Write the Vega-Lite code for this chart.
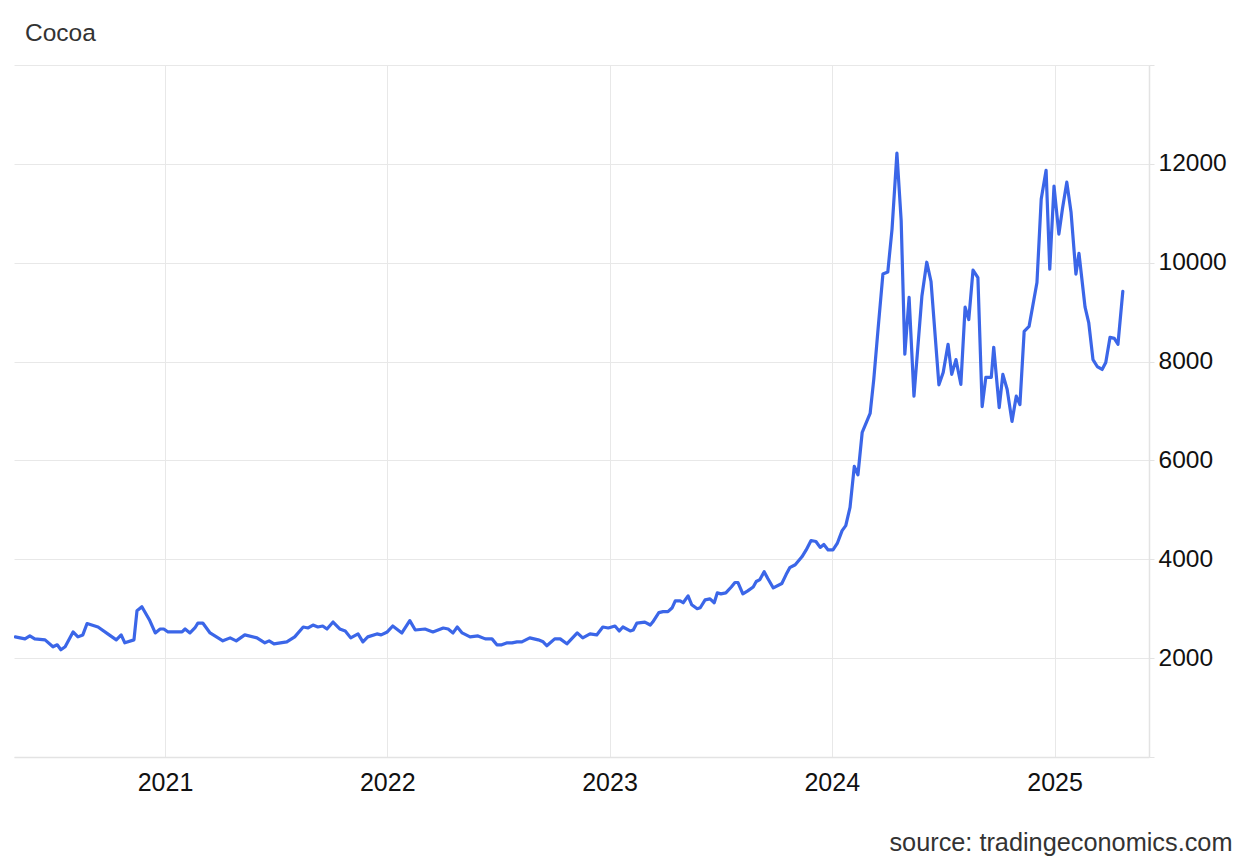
{
  "$schema": "https://vega.github.io/schema/vega-lite/v6.json",
  "autosize": "none",
  "width": 1135,
  "height": 692,
  "padding": {"left": 14, "top": 65, "right": 100, "bottom": 107},
  "background": "white",
  "title": {
    "text": "Cocoa",
    "anchor": "start",
    "frame": "group",
    "dx": 11,
    "dy": 24,
    "offset": 23,
    "baseline": "alphabetic",
    "font": "Liberation Sans",
    "fontSize": 24.5,
    "fontWeight": "normal",
    "color": "#333333"
  },
  "config": {
    "view": {"stroke": null},
    "font": "Liberation Sans"
  },
  "data": {
    "values": [
      {"date": "2020-04-30", "price": 2430},
      {"date": "2020-05-16", "price": 2390},
      {"date": "2020-05-24", "price": 2450},
      {"date": "2020-06-01", "price": 2390},
      {"date": "2020-06-18", "price": 2370},
      {"date": "2020-07-01", "price": 2230},
      {"date": "2020-07-08", "price": 2270},
      {"date": "2020-07-14", "price": 2170},
      {"date": "2020-07-21", "price": 2230},
      {"date": "2020-08-03", "price": 2530},
      {"date": "2020-08-11", "price": 2430},
      {"date": "2020-08-19", "price": 2470},
      {"date": "2020-08-26", "price": 2700},
      {"date": "2020-09-13", "price": 2630},
      {"date": "2020-09-29", "price": 2490},
      {"date": "2020-10-13", "price": 2370},
      {"date": "2020-10-21", "price": 2470},
      {"date": "2020-10-27", "price": 2310},
      {"date": "2020-11-11", "price": 2370},
      {"date": "2020-11-16", "price": 2960},
      {"date": "2020-11-24", "price": 3040},
      {"date": "2020-12-07", "price": 2760},
      {"date": "2020-12-16", "price": 2510},
      {"date": "2020-12-24", "price": 2590},
      {"date": "2020-12-30", "price": 2590},
      {"date": "2021-01-06", "price": 2530},
      {"date": "2021-01-29", "price": 2530},
      {"date": "2021-02-03", "price": 2590},
      {"date": "2021-02-11", "price": 2510},
      {"date": "2021-02-19", "price": 2610},
      {"date": "2021-02-24", "price": 2710},
      {"date": "2021-03-04", "price": 2710},
      {"date": "2021-03-16", "price": 2510},
      {"date": "2021-04-06", "price": 2350},
      {"date": "2021-04-18", "price": 2410},
      {"date": "2021-04-28", "price": 2350},
      {"date": "2021-05-12", "price": 2470},
      {"date": "2021-06-01", "price": 2410},
      {"date": "2021-06-14", "price": 2310},
      {"date": "2021-06-21", "price": 2350},
      {"date": "2021-06-29", "price": 2290},
      {"date": "2021-07-20", "price": 2330},
      {"date": "2021-08-02", "price": 2430},
      {"date": "2021-08-16", "price": 2630},
      {"date": "2021-08-24", "price": 2610},
      {"date": "2021-09-01", "price": 2670},
      {"date": "2021-09-09", "price": 2630},
      {"date": "2021-09-17", "price": 2650},
      {"date": "2021-09-24", "price": 2590},
      {"date": "2021-10-04", "price": 2730},
      {"date": "2021-10-15", "price": 2590},
      {"date": "2021-10-24", "price": 2550},
      {"date": "2021-11-02", "price": 2410},
      {"date": "2021-11-14", "price": 2490},
      {"date": "2021-11-22", "price": 2330},
      {"date": "2021-11-30", "price": 2430},
      {"date": "2021-12-15", "price": 2490},
      {"date": "2021-12-22", "price": 2470},
      {"date": "2022-01-01", "price": 2530},
      {"date": "2022-01-10", "price": 2650},
      {"date": "2022-01-25", "price": 2510},
      {"date": "2022-02-07", "price": 2760},
      {"date": "2022-02-16", "price": 2570},
      {"date": "2022-03-04", "price": 2590},
      {"date": "2022-03-17", "price": 2530},
      {"date": "2022-04-03", "price": 2610},
      {"date": "2022-04-11", "price": 2590},
      {"date": "2022-04-19", "price": 2510},
      {"date": "2022-04-26", "price": 2630},
      {"date": "2022-05-04", "price": 2510},
      {"date": "2022-05-17", "price": 2430},
      {"date": "2022-05-30", "price": 2450},
      {"date": "2022-06-11", "price": 2390},
      {"date": "2022-06-22", "price": 2390},
      {"date": "2022-06-30", "price": 2270},
      {"date": "2022-07-08", "price": 2270},
      {"date": "2022-07-17", "price": 2310},
      {"date": "2022-07-25", "price": 2310},
      {"date": "2022-08-02", "price": 2330},
      {"date": "2022-08-10", "price": 2330},
      {"date": "2022-08-23", "price": 2410},
      {"date": "2022-09-06", "price": 2370},
      {"date": "2022-09-14", "price": 2330},
      {"date": "2022-09-20", "price": 2250},
      {"date": "2022-10-03", "price": 2390},
      {"date": "2022-10-12", "price": 2390},
      {"date": "2022-10-23", "price": 2290},
      {"date": "2022-11-09", "price": 2510},
      {"date": "2022-11-18", "price": 2410},
      {"date": "2022-11-30", "price": 2490},
      {"date": "2022-12-11", "price": 2470},
      {"date": "2022-12-21", "price": 2630},
      {"date": "2022-12-30", "price": 2610},
      {"date": "2023-01-10", "price": 2650},
      {"date": "2023-01-17", "price": 2550},
      {"date": "2023-01-23", "price": 2630},
      {"date": "2023-02-04", "price": 2550},
      {"date": "2023-02-09", "price": 2570},
      {"date": "2023-02-15", "price": 2710},
      {"date": "2023-02-28", "price": 2730},
      {"date": "2023-03-09", "price": 2670},
      {"date": "2023-03-13", "price": 2730},
      {"date": "2023-03-23", "price": 2920},
      {"date": "2023-03-30", "price": 2940},
      {"date": "2023-04-07", "price": 2940},
      {"date": "2023-04-14", "price": 3020},
      {"date": "2023-04-19", "price": 3160},
      {"date": "2023-04-27", "price": 3160},
      {"date": "2023-05-02", "price": 3120},
      {"date": "2023-05-10", "price": 3260},
      {"date": "2023-05-16", "price": 3080},
      {"date": "2023-05-25", "price": 3000},
      {"date": "2023-05-30", "price": 3020},
      {"date": "2023-06-07", "price": 3180},
      {"date": "2023-06-15", "price": 3200},
      {"date": "2023-06-22", "price": 3120},
      {"date": "2023-06-27", "price": 3320},
      {"date": "2023-07-03", "price": 3300},
      {"date": "2023-07-11", "price": 3320},
      {"date": "2023-07-20", "price": 3440},
      {"date": "2023-07-26", "price": 3530},
      {"date": "2023-07-31", "price": 3530},
      {"date": "2023-08-08", "price": 3300},
      {"date": "2023-08-16", "price": 3360},
      {"date": "2023-08-25", "price": 3440},
      {"date": "2023-08-30", "price": 3550},
      {"date": "2023-09-05", "price": 3590},
      {"date": "2023-09-12", "price": 3750},
      {"date": "2023-09-18", "price": 3610},
      {"date": "2023-09-27", "price": 3420},
      {"date": "2023-10-11", "price": 3510},
      {"date": "2023-10-18", "price": 3690},
      {"date": "2023-10-24", "price": 3830},
      {"date": "2023-11-02", "price": 3890},
      {"date": "2023-11-13", "price": 4050},
      {"date": "2023-11-20", "price": 4190},
      {"date": "2023-11-28", "price": 4380},
      {"date": "2023-12-06", "price": 4360},
      {"date": "2023-12-13", "price": 4240},
      {"date": "2023-12-19", "price": 4300},
      {"date": "2023-12-26", "price": 4190},
      {"date": "2024-01-03", "price": 4190},
      {"date": "2024-01-10", "price": 4320},
      {"date": "2024-01-18", "price": 4580},
      {"date": "2024-01-24", "price": 4680},
      {"date": "2024-01-31", "price": 5050},
      {"date": "2024-02-07", "price": 5880},
      {"date": "2024-02-13", "price": 5710},
      {"date": "2024-02-20", "price": 6570},
      {"date": "2024-03-04", "price": 6950},
      {"date": "2024-03-10", "price": 7640},
      {"date": "2024-03-17", "price": 8650},
      {"date": "2024-03-25", "price": 9770},
      {"date": "2024-04-02", "price": 9810},
      {"date": "2024-04-09", "price": 10680},
      {"date": "2024-04-17", "price": 12220},
      {"date": "2024-04-24", "price": 10850},
      {"date": "2024-04-30", "price": 8150},
      {"date": "2024-05-07", "price": 9300},
      {"date": "2024-05-15", "price": 7300},
      {"date": "2024-05-28", "price": 9320},
      {"date": "2024-06-05", "price": 10010},
      {"date": "2024-06-12", "price": 9620},
      {"date": "2024-06-25", "price": 7530},
      {"date": "2024-07-02", "price": 7780},
      {"date": "2024-07-10", "price": 8350},
      {"date": "2024-07-16", "price": 7740},
      {"date": "2024-07-23", "price": 8040},
      {"date": "2024-07-31", "price": 7540},
      {"date": "2024-08-07", "price": 9100},
      {"date": "2024-08-13", "price": 8850},
      {"date": "2024-08-20", "price": 9850},
      {"date": "2024-08-28", "price": 9700},
      {"date": "2024-09-04", "price": 7090},
      {"date": "2024-09-10", "price": 7680},
      {"date": "2024-09-19", "price": 7680},
      {"date": "2024-09-23", "price": 8290},
      {"date": "2024-10-02", "price": 7070},
      {"date": "2024-10-08", "price": 7740},
      {"date": "2024-10-15", "price": 7440},
      {"date": "2024-10-23", "price": 6790},
      {"date": "2024-10-30", "price": 7300},
      {"date": "2024-11-05", "price": 7130},
      {"date": "2024-11-12", "price": 8610},
      {"date": "2024-11-20", "price": 8710},
      {"date": "2024-11-26", "price": 9120},
      {"date": "2024-12-03", "price": 9600},
      {"date": "2024-12-10", "price": 11290},
      {"date": "2024-12-18", "price": 11870},
      {"date": "2024-12-24", "price": 9870},
      {"date": "2024-12-31", "price": 11550},
      {"date": "2025-01-08", "price": 10580},
      {"date": "2025-01-14", "price": 11100},
      {"date": "2025-01-21", "price": 11630},
      {"date": "2025-01-28", "price": 11020},
      {"date": "2025-02-05", "price": 9770},
      {"date": "2025-02-10", "price": 10190},
      {"date": "2025-02-20", "price": 9100},
      {"date": "2025-02-26", "price": 8790},
      {"date": "2025-03-05", "price": 8040},
      {"date": "2025-03-12", "price": 7900},
      {"date": "2025-03-20", "price": 7840},
      {"date": "2025-03-26", "price": 7980},
      {"date": "2025-04-02", "price": 8490},
      {"date": "2025-04-09", "price": 8470},
      {"date": "2025-04-15", "price": 8350},
      {"date": "2025-04-23", "price": 9420}
    ]
  },
  "mark": {
    "type": "line",
    "color": "#3b66e8",
    "strokeWidth": 3.2,
    "strokeJoin": "round",
    "strokeCap": "round",
    "clip": true
  },
  "encoding": {
    "x": {
      "field": "date",
      "type": "temporal",
      "scale": {
        "domain": [
          {"year": 2020, "month": 4, "date": 28},
          {"year": 2025, "month": 6, "date": 5}
        ]
      },
      "axis": {
        "title": "source: tradingeconomics.com",
        "titleFont": "Liberation Sans",
        "titleFontSize": 25.3,
        "titleFontWeight": "normal",
        "titleColor": "#333333",
        "titleAnchor": "end",
        "titleAlign": "right",
        "titleBaseline": "alphabetic",
        "titleX": 1218,
        "titleY": 93,
        "tickCount": {"interval": "year", "step": 1},
        "format": "%Y",
        "grid": true,
        "gridColor": "#e8e8e8",
        "gridWidth": 1,
        "domainColor": "#e3e3e3",
        "domainWidth": 1.5,
        "ticks": false,
        "labelFont": "Liberation Sans",
        "labelFontSize": 25,
        "labelColor": "#111111",
        "labelPadding": 13,
        "labelFlush": false
      }
    },
    "y": {
      "field": "price",
      "type": "quantitative",
      "scale": {"domain": [0, 14000], "nice": false, "zero": true},
      "axis": {
        "orient": "right",
        "title": null,
        "values": [0, 2000, 4000, 6000, 8000, 10000, 12000, 14000],
        "labelExpr": "datum.value == 0 || datum.value == 14000 ? '' : datum.value",
        "format": "d",
        "grid": true,
        "gridColor": "#e8e8e8",
        "gridWidth": 1,
        "domainColor": "#e3e3e3",
        "domainWidth": 1.5,
        "ticks": true,
        "tickColor": "#e3e3e3",
        "tickSize": 5,
        "labelFont": "Liberation Sans",
        "labelFontSize": 24.5,
        "labelColor": "#111111",
        "labelPadding": 4
      }
    }
  }
}
